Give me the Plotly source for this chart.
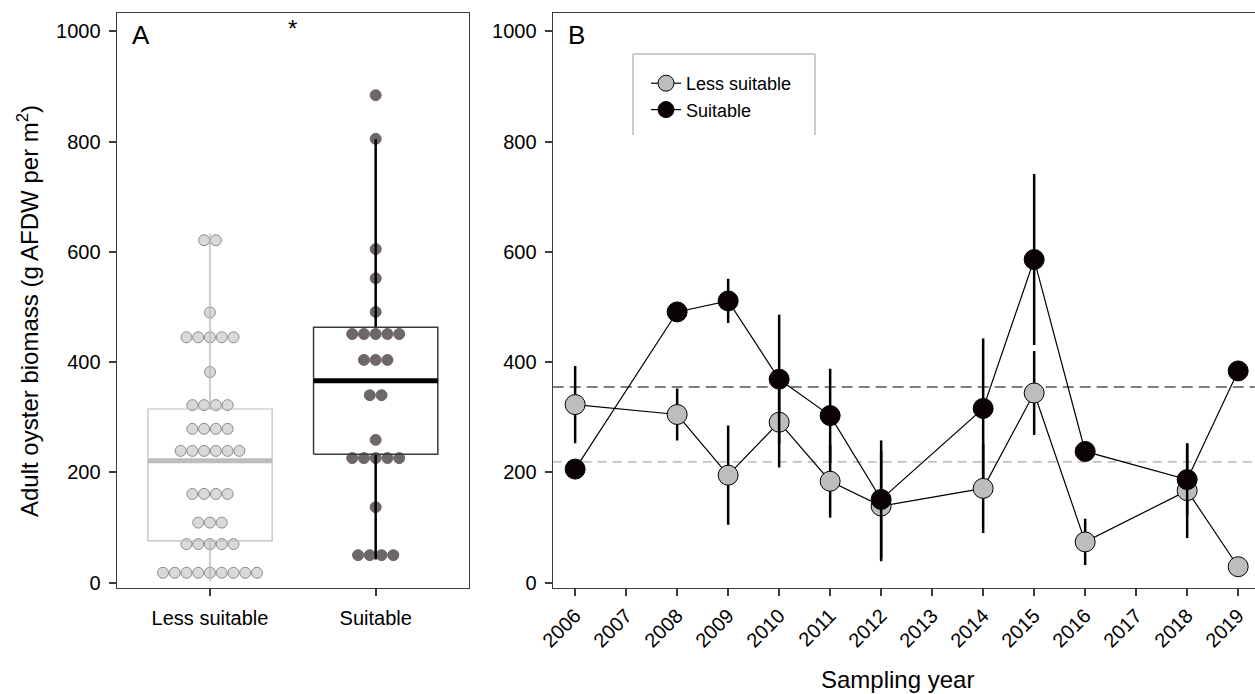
import plotly.graph_objects as go
from collections import Counter

W, H = 1255, 694

# ---------------- Panel A data ----------------
categories = ["Less suitable", "Suitable"]
less_suitable_values = ([621] * 2 + [490] + [445] * 5 + [382] + [322] * 4 + [279] * 4 +
                        [239] * 6 + [161] * 4 + [109] * 3 + [70] * 5 + [18] * 9)
suitable_values = ([884, 805, 605, 552, 491] + [451] * 5 + [404] * 3 + [340] * 2 +
                   [259] + [226] * 5 + [137] + [50] * 4)
# lower whisker, Q1, median, Q3, upper whisker
less_box_stats = [2, 76, 221, 315, 633]
suitable_box_stats = [42, 233, 366, 463, 804]

# ---------------- Panel B data ----------------
years = [2006, 2008, 2009, 2010, 2011, 2012, 2014, 2015, 2016, 2018, 2019]
less_mean = [323, 305, 195, 291, 184, 139, 171, 344, 74, 167, 29]
less_se = [70, 47, 90, 82, 66, 100, 81, 76, 42, 86, 12]
suit_mean = [206, 491, 511, 369, 303, 151, 316, 586, 238, 187, 384]
suit_se = [0, 0, 40, 117, 85, 107, 127, 155, 0, 65, 0]
group_lines = [219, 355]          # light (less suitable), dark (suitable)
year_ticks = list(range(2006, 2020))
y_ticks = [0, 200, 400, 600, 800, 1000]

FONT = "Liberation Sans, Arial, Helvetica, sans-serif"
AXC = "#3c3c3c"

fig = go.Figure()

# ---------- Panel A: dots ----------
def dot_xy(values, center, step=0.0709):
    xs, ys = [], []
    counts = Counter(values)
    for v in sorted(counts, reverse=True):
        n = counts[v]
        for k in range(n):
            xs.append(center + (k - (n - 1) / 2) * step)
            ys.append(v)
    return xs, ys

lx, ly = dot_xy(less_suitable_values, 0)
sx, sy = dot_xy(suitable_values, 1)
fig.add_trace(go.Scatter(x=lx, y=ly, mode="markers", xaxis="x", yaxis="y", showlegend=False,
                         marker=dict(size=11, color="#d9d9d9", line=dict(color="#8c8c8c", width=1)),
                         hoverinfo="y"))
fig.add_trace(go.Scatter(x=sx, y=sy, mode="markers", xaxis="x", yaxis="y", showlegend=False,
                         marker=dict(size=11, color="#6f6767", line=dict(color="#6f6767", width=1)),
                         hoverinfo="y"))

# ---------- Panel A: boxes ----------
def add_box(stats, center, color, box_style, whisk_w, med_color, hw=0.375):
    lo, q1, med, q3, hi = stats
    fig.add_trace(go.Scatter(x=[center, center], y=[q3, hi], mode="lines", xaxis="x", yaxis="y",
                             showlegend=False, line=dict(color=color, width=whisk_w), hoverinfo="skip"))
    fig.add_trace(go.Scatter(x=[center, center], y=[lo, q1], mode="lines", xaxis="x", yaxis="y",
                             showlegend=False, line=dict(color=color, width=whisk_w), hoverinfo="skip"))
    fig.add_trace(go.Scatter(x=[center - hw, center + hw, center + hw, center - hw, center - hw],
                             y=[q1, q1, q3, q3, q1], mode="lines", xaxis="x", yaxis="y",
                             showlegend=False, line=dict(color=box_style[0], width=box_style[1]),
                             hoverinfo="skip"))
    fig.add_trace(go.Scatter(x=[center - hw, center + hw], y=[med, med], mode="lines", xaxis="x", yaxis="y",
                             showlegend=False, line=dict(color=med_color, width=5), hoverinfo="skip"))

add_box(less_box_stats, 0, "#bdbdbd", ("#bdbdbd", 1.2), 1.5, "#bdbdbd")
add_box(suitable_box_stats, 1, "#000000", ("#3a3a3a", 1.5), 2.5, "#000000")

# ---------- Panel B ----------
fig.add_trace(go.Scatter(
    x=years, y=less_mean, mode="lines+markers", name="Less suitable", xaxis="x2", yaxis="y2",
    line=dict(color="#000000", width=1.2),
    marker=dict(size=20, color="#bdbdbd", line=dict(color="#000000", width=1)),
    error_y=dict(type="data", array=less_se, visible=True, color="#000000", thickness=2.5, width=0),
))
fig.add_trace(go.Scatter(
    x=years, y=suit_mean, mode="lines+markers", name="Suitable", xaxis="x2", yaxis="y2",
    line=dict(color="#000000", width=1.2),
    marker=dict(size=20, color="#0b0206", line=dict(color="#000000", width=1)),
    error_y=dict(type="data", array=suit_se, visible=True, color="#000000", thickness=2.5, width=0),
))

# legend frame (top, left, right sides only, as in the reference)
lx0, lx1, ly0, ly1 = 633 / W, 815 / W, 1 - 54 / H, 1 - 135 / H
shapes = [
    dict(type="line", xref="x2 domain", yref="y2", x0=0, x1=1, y0=group_lines[0], y1=group_lines[0],
         line=dict(color="#aaaaaa", width=1.3, dash="9px,6px"), layer="below"),
    dict(type="line", xref="x2 domain", yref="y2", x0=0, x1=1, y0=group_lines[1], y1=group_lines[1],
         line=dict(color="#555555", width=1.6, dash="11px,6px"), layer="below"),
    dict(type="path", xref="paper", yref="paper",
         path=f"M {lx0} {ly1} L {lx0} {ly0} L {lx1} {ly0} L {lx1} {ly1}",
         line=dict(color="#9a9a9a", width=1)),
]

ydom = [1 - 588.0 / H, 1 - 12.7 / H]
yrange = [-9.6, 1033.6]

axis_common = dict(showgrid=False, zeroline=False, showline=True, linecolor=AXC, linewidth=1.3,
                   ticks="outside", ticklen=7, tickwidth=1.5, tickcolor=AXC, automargin=False,
                   tickfont=dict(family=FONT, size=20, color="#000000"))

fig.update_layout(
    width=W, height=H,
    margin=dict(l=0, r=0, t=0, b=0, autoexpand=False),
    plot_bgcolor="white", paper_bgcolor="white",
    font=dict(family=FONT, color="#000000"),
    xaxis=dict(domain=[116.7 / W, 469.3 / W], range=[-0.563, 1.565], tickvals=[0, 1],
               ticktext=categories, mirror=True, anchor="y", ticklabelstandoff=5, **axis_common),
    yaxis=dict(domain=ydom, range=yrange, tickvals=y_ticks, mirror=True, anchor="x",
               ticklabelstandoff=4, **axis_common),
    xaxis2=dict(domain=[552.7 / W, 1.0], range=[2005.56, 2019.33], tickvals=year_ticks,
                tickangle=-45, mirror=True, anchor="y2", **axis_common),
    yaxis2=dict(domain=ydom, range=yrange, tickvals=y_ticks, mirror=False, anchor="x2",
                ticklabelstandoff=4, **axis_common),
    shapes=shapes,
    legend=dict(x=646 / W, y=1 - 65 / H, xanchor="left", yanchor="top",
                bgcolor="rgba(0,0,0,0)", borderwidth=0,
                font=dict(family=FONT, size=18, color="#000000"),
                itemwidth=30),
    annotations=[
        dict(text="A", xref="paper", yref="paper", x=130 / W, y=1 - 35 / H, xanchor="left",
             yanchor="middle", showarrow=False, font=dict(family=FONT, size=26)),
        dict(text="B", xref="paper", yref="paper", x=566 / W, y=1 - 35 / H, xanchor="left",
             yanchor="middle", showarrow=False, font=dict(family=FONT, size=26)),
        dict(text="*", xref="paper", yref="paper", x=292 / W, y=1 - 28 / H, xanchor="center",
             yanchor="middle", showarrow=False, font=dict(family=FONT, size=24)),
        dict(text="Adult oyster biomass (g AFDW per m<sup>2</sup>)", xref="paper", yref="paper",
             x=28 / W, y=1 - 311 / H, xanchor="center", yanchor="middle", textangle=-90,
             showarrow=False, font=dict(family=FONT, size=24)),
        dict(text="Sampling year", xref="paper", yref="paper", x=897 / W, y=1 - 679 / H,
             xanchor="center", yanchor="middle", showarrow=False, font=dict(family=FONT, size=24)),
    ],
)

fig.write_html("out.html", config={"displayModeBar": False},
               post_script="document.body.style.margin='0';document.body.style.overflow='hidden';")
